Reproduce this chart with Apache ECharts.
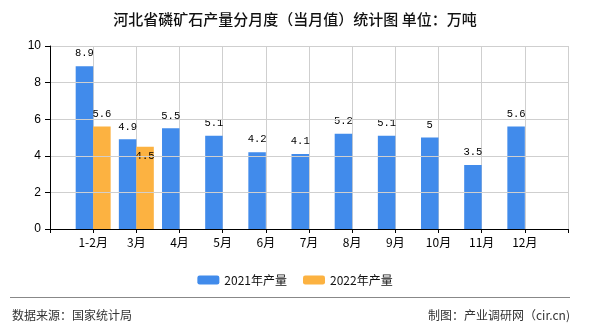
<!DOCTYPE html>
<html>
<head>
<meta charset="utf-8">
<script src="https://cdn.jsdelivr.net/npm/echarts@6/dist/echarts.min.js"></script>
<style>html,body{margin:0;padding:0;background:#fff}#c{width:590px;height:330px}</style>
</head>
<body>
<div id="c"></div>
<script>
const categories = ['', '1-2月', '3月', '4月', '5月', '6月', '7月', '8月', '9月', '10月', '11月', '12月', ''];
const data2021 = [null, 8.9, 4.9, 5.5, 5.1, 4.2, 4.1, 5.2, 5.1, 5, 3.5, 5.6, null];
const data2022 = [null, 5.6, 4.5, null, null, null, null, null, null, null, null, null, null];
const seriesNames = ['2021年产量', '2022年产量'];
const yTicks = { min: 0, max: 10, interval: 2 };
const titleText = '河北省磷矿石产量分月度（当月值）统计图 单位：万吨';
const sourceText = '数据来源：国家统计局';
const makerText = '制图：产业调研网（cir.cn)';

const chart = echarts.init(document.getElementById('c'), null, { renderer: 'canvas' });
const labelFont = { fontFamily: 'Liberation Mono', fontSize: 10.5, color: '#000' };
const gridColor = '#cfcfcf';
const option = {
  animation: false,
  backgroundColor: '#fff',
  title: {
    text: titleText, left: 'center', top: 7,
    textStyle: { fontFamily: 'Noto Sans CJK SC', fontSize: 15, fontWeight: 500, color: '#111' }
  },
  legend: {
    data: seriesNames, left: 'center', top: 269,
    itemWidth: 22, itemHeight: 9, itemGap: 16,
    textStyle: { fontFamily: 'Noto Sans CJK SC', fontSize: 12, color: '#111' }
  },
  grid: { left: 50, right: 22, top: 46, bottom: 101, containLabel: false },
  xAxis: [{
    type: 'category', data: categories, boundaryGap: false,
    axisLine: { lineStyle: { color: '#000', width: 1 } },
    axisTick: { show: true, length: 4, interval: 0, lineStyle: { color: '#000' } },
    axisLabel: { margin: 7, fontFamily: 'Noto Sans CJK SC', fontSize: 12, color: '#000', interval: 0 },
    splitLine: { show: false },
    z: 3
  }, {
    type: 'value', position: 'top', min: 0, max: categories.length - 1, interval: 1,
    axisLine: { show: false }, axisTick: { show: false }, axisLabel: { show: false },
    splitLine: { show: true, lineStyle: { color: gridColor, width: 1 } }
  }],
  yAxis: {
    type: 'value', min: yTicks.min, max: yTicks.max, interval: yTicks.interval,
    axisLine: { show: true, lineStyle: { color: '#000', width: 1 } },
    axisTick: { show: true, length: 5, lineStyle: { color: '#000' } },
    axisLabel: { margin: 9, fontFamily: 'Liberation Sans', fontSize: 12, color: '#000' },
    splitLine: { show: true, lineStyle: { color: gridColor, width: 1 } },
    z: 3
  },
  series: [
    {
      name: seriesNames[0], type: 'bar', data: data2021,
      barGap: '0%', barCategoryGap: '19%',
      itemStyle: { color: '#418BEB' },
      label: { show: true, position: 'top', distance: 7, ...labelFont }
    },
    {
      name: seriesNames[1], type: 'bar',
      data: data2022.map((v, i) => i === 2 ? { value: v, label: { position: 'insideTop', distance: 4 } } : v),
      barGap: '0%', barCategoryGap: '19%',
      itemStyle: { color: '#FCB241' },
      label: { show: true, position: 'top', distance: 7, ...labelFont }
    }
  ],
  graphic: [
    { type: 'line', shape: { x1: 10, y1: 297.5, x2: 570, y2: 297.5 }, style: { stroke: '#888', lineWidth: 1 } },
    { type: 'text', left: 12, top: 309, style: { text: sourceText, fontFamily: 'Noto Sans CJK SC', fontSize: 12, fill: '#333' } },
    { type: 'text', right: 20, top: 309, style: { text: makerText, fontFamily: 'Noto Sans CJK SC', fontSize: 12, fill: '#333' } }
  ]
};
chart.setOption(option);
</script>
</body>
</html>
